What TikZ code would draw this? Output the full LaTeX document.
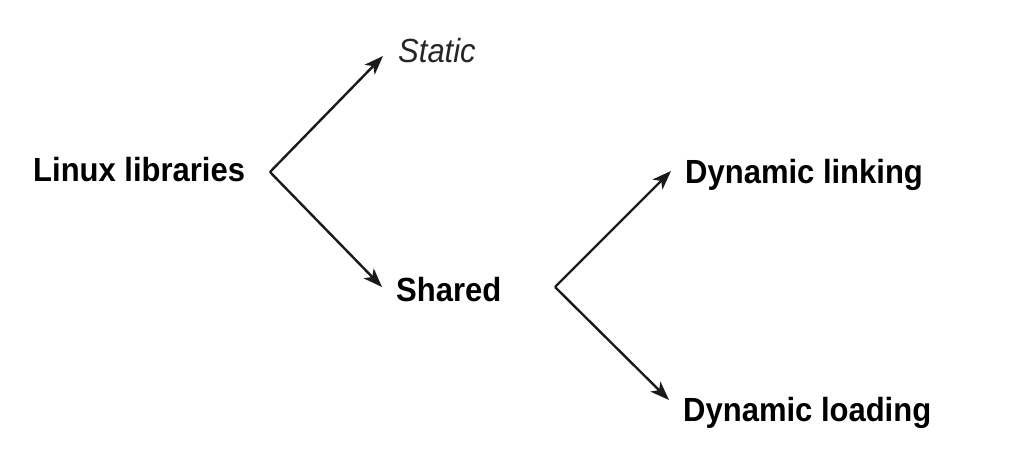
\documentclass[tikz,border=0pt]{standalone}
\usepackage{fontspec}
\setmainfont{Liberation Sans}
\usetikzlibrary{arrows.meta}
\definecolor{ink}{HTML}{1A1A1A}
\tikzset{
  lbl/.style={anchor=base west, inner sep=0pt, text=black, font=\fontsize{31}{36}\selectfont\bfseries},
  ilbl/.style={anchor=base west, inner sep=0pt, text=black!85, font=\fontsize{31}{36}\selectfont\itshape},
  arr/.style={draw=ink, line width=2.4pt, line join=miter, -{Stealth[length=19pt,width=14pt,inset=5pt]}}
}
\begin{document}
\begin{tikzpicture}[x=1pt,y=-1pt]
\useasboundingbox (0,0) rectangle (1024,461);
\node[lbl] (linux) at (33,181) {\scalebox{1}[1.08]{Linux libraries}};
\node[ilbl] (static) at (398,62) {\scalebox{1}[1.08]{Static}};
\node[lbl] (shared) at (396,301) {\scalebox{1}[1.08]{Shared}};
\node[lbl] (dlink) at (685,183) {\scalebox{1}[1.08]{Dynamic linking}};
\node[lbl] (dload) at (683,421) {\scalebox{1}[1.08]{Dynamic loading}};
\coordinate (v1) at (270,172);
\coordinate (v2) at (555,287);
\coordinate (t1) at (383,56);
\coordinate (t2) at (382,287);
\coordinate (t3) at (671,171);
\coordinate (t4) at (669,400);
\draw[arr] (v1) -- (t1);
\draw[arr] (v1) -- (t2);
\draw[arr] (v2) -- (t3);
\draw[arr] (v2) -- (t4);
\end{tikzpicture}
\end{document}
